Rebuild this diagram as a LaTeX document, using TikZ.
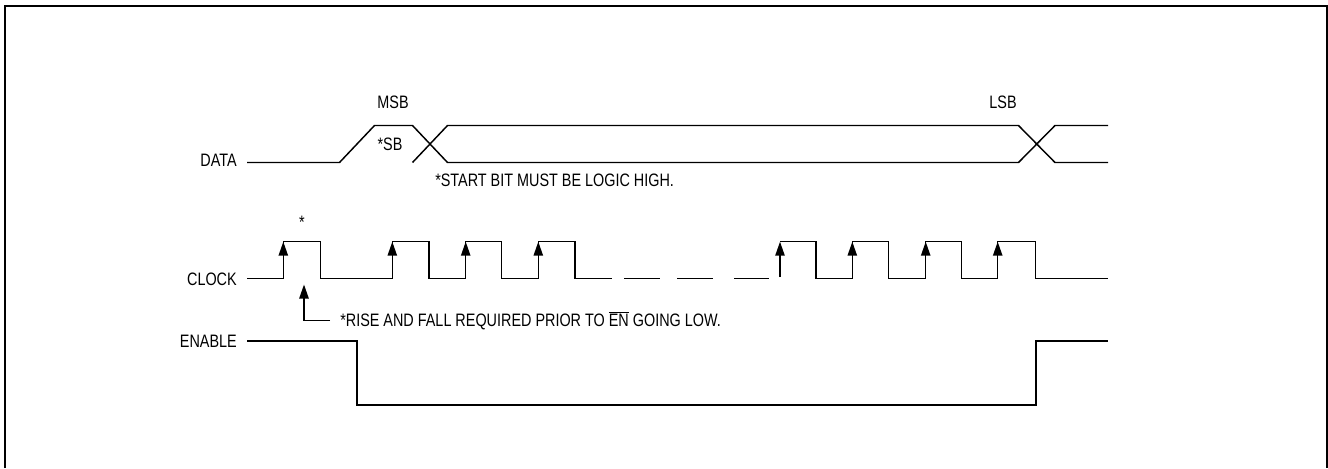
\documentclass[tikz,border=0pt]{standalone}
\usepackage{fontspec}
\setmainfont{Liberation Sans}[FakeStretch=0.80]
\usetikzlibrary{arrows.meta}
\begin{document}
\begin{tikzpicture}[x=0.75pt,y=-0.75pt,
  wave/.style={line width=1.1pt, line join=miter},
  lbl/.style={font=\fontsize{13.5}{15}\selectfont, inner sep=0pt},
  edgearrow/.style={line width=1.1pt, -{Triangle[length=10.5pt,width=7pt]}},
  frame/.style={line width=1.6pt}]
\useasboundingbox (0,0) rectangle (1328,468);
% frame
\draw[frame] (5,468) -- (5,6) -- (1326.8,6) -- (1326.8,468);

% labels
\node[lbl, anchor=east] (ldata) at (237,160) {DATA};
\node[lbl, anchor=east] (lclock) at (237,279) {CLOCK};
\node[lbl, anchor=east] (lenable) at (237,341) {ENABLE};
\node[lbl] (msb) at (393,102) {MSB};
\node[lbl] (sb) at (390,144) {*SB};
\node[lbl] (lsb) at (1003,102) {LSB};
\node[lbl, anchor=west] (startnote) at (435,180.5) {*START BIT MUST BE LOGIC HIGH.};
\node[lbl] (star) at (302,222) {*};
\node[lbl, anchor=west] (risenote) at (340,320.5) {*RISE AND FALL REQUIRED PRIOR TO $\overline{\mbox{EN}}$ GOING LOW.};

% DATA
\draw[wave] (247,162.5) -- (339.5,162.5) -- (374.5,125.5) -- (412.5,125.5) -- (447.5,162.5)
  -- (1018.5,162.5) -- (1055,125.5) -- (1108,125.5);
\draw[wave] (412.5,162.5) -- (447.5,125.5) -- (1018.5,125.5) -- (1055,162.5) -- (1108,162.5);

% CLOCK
\draw[wave] (247,278.5) -- (283.3,278.5) -- (283.3,241.7) -- (320.7,241.7) -- (320.7,278.5)
  -- (392.3,278.5) -- (392.3,241.7) -- (429,241.7) -- (429,278.5)
  -- (465.7,278.5) -- (465.7,241.7) -- (501.7,241.7) -- (501.7,278.5)
  -- (538.3,278.5) -- (538.3,241.7) -- (575,241.7) -- (575,278.5) -- (611.7,278.5);
\draw[wave] (624,278.5) -- (660.4,278.5);
\draw[wave] (677,278.5) -- (713.3,278.5);
\draw[wave] (734,278.5) -- (769,278.5);
\draw[wave] (780,241.7) -- (816,241.7) -- (816,278.5)
  -- (852.3,278.5) -- (852.3,241.7) -- (888.3,241.7) -- (888.3,278.5)
  -- (925.7,278.5) -- (925.7,241.7) -- (961.7,241.7) -- (961.7,278.5)
  -- (997.7,278.5) -- (997.7,241.7) -- (1035.7,241.7) -- (1035.7,278.5) -- (1108,278.5);
\foreach \x in {283.3,392.3,465.7,538.3,852.3,925.7,997.7}
  \draw[edgearrow] (\x,278.5) -- (\x,241.7);
\draw[edgearrow] (780,277) -- (780,241.7);
\draw[edgearrow] (330,320.7) -- (304,320.7) -- (304,284.5);

% ENABLE
\draw[wave] (247,341) -- (357,341) -- (357,405) -- (1036,405) -- (1036,341) -- (1108,341);
\end{tikzpicture}
\end{document}
